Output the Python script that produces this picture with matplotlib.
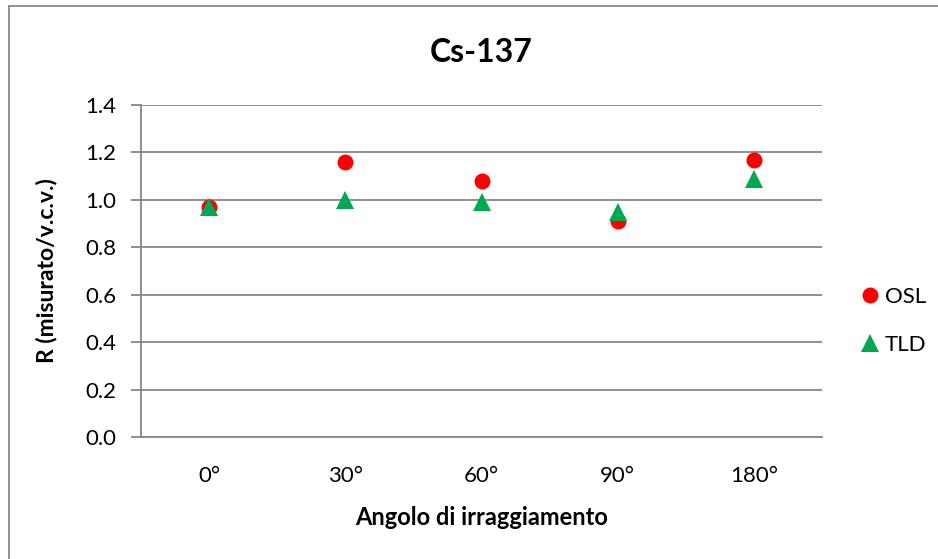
# grafico R (misurato/v.c.v.) per Cs-137, OSL e TLD
import matplotlib.pyplot as plt
from matplotlib.patches import Rectangle

angoli = ["0°", "30°", "60°", "90°", "180°"]
osl = [0.97, 1.16, 1.08, 0.91, 1.17]
tld = [0.97, 1.00, 0.99, 0.95, 1.09]

plt.rcParams['font.family'] = ['Lato', 'DejaVu Sans']

fig = plt.figure(figsize=(9.38, 5.59), dpi=100)
ax = fig.add_axes([141/938, 1-437/559, 681/938, 332/559])

x = range(len(angoli))
ax.plot(x, osl, 'o', color="#ff0000", markersize=11.5, markeredgewidth=0, label="OSL")
ax.plot(x, tld, '^', color="#00a84f", markersize=13, markeredgewidth=0, label="TLD")

ax.set_xlim(-0.5, 4.5)
ax.set_ylim(0, 1.4)
ax.set_yticks([0, 0.2, 0.4, 0.6, 0.8, 1.0, 1.2, 1.4])
ax.set_yticklabels([f"{v:.1f}" for v in ax.get_yticks()])
ax.set_xticks(list(x))
ax.set_xticklabels(angoli)
ax.grid(axis="y", color="#868686", linewidth=1.3)
ax.set_axisbelow(True)

for s in ["top", "right"]:
    ax.spines[s].set_visible(False)
for s in ["left", "bottom"]:
    ax.spines[s].set_color("#868686")
    ax.spines[s].set_linewidth(1.3)
ax.tick_params(axis="y", length=7, color="#868686", width=1.3, labelsize=16, pad=11)
ax.tick_params(axis="x", length=0, labelsize=16, pad=21)

ax.set_title("Cs-137", fontsize=23, fontweight="bold", pad=31)
ax.set_xlabel("Angolo di irraggiamento", fontsize=17, fontweight="bold", labelpad=14)
ax.set_ylabel("R (misurato/v.c.v.)", fontsize=16.5, fontweight="bold", labelpad=20)

ax.legend(loc="center left", bbox_to_anchor=(1.02, 0.35), frameon=False,
          fontsize=16, handletextpad=0.0, labelspacing=1.25, handlelength=1.3)

# cornice del grafico
fig.patches.append(Rectangle((9/938, -0.1), 1.2, 1-6/559+0.1, transform=fig.transFigure,
                             fill=False, edgecolor="#868686", linewidth=1.3))

plt.savefig("out.png")
